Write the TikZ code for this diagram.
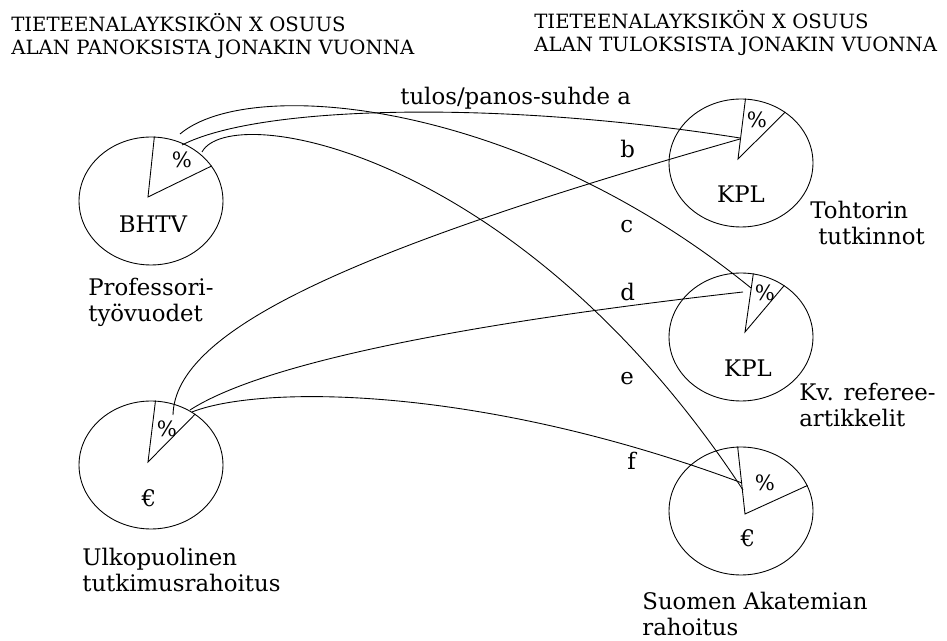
\documentclass[tikz,border=0pt]{standalone}
\usepackage{fontspec}
\setmainfont{DejaVu Serif}
\usetikzlibrary{shapes.geometric, calc}
\tikzset{
	pie/.style   ={ellipse, draw=black, line width=0.5pt, minimum width=2.88cm, minimum height=2.56cm, inner sep=0pt},
	wedge/.style ={draw=black, line width=0.5pt},
	link/.style  ={draw=black, line width=0.5pt},
	txt/.style   ={inner sep=0pt, anchor=base west},
	unit/.style  ={inner sep=0pt, anchor=base},
	pct/.style   ={inner sep=0pt, anchor=base, font=\fontsize{12}{14}\selectfont},
	head/.style  ={inner sep=0pt, anchor=base west, align=left, font=\fontsize{11.2}{13.3}\selectfont},
	multi/.style ={inner sep=0pt, anchor=base west, align=left},
}

\begin{document}
\begin{tikzpicture}[x=0.02cm, y=-0.02cm, font=\fontsize{13}{14.8}\selectfont]
	\useasboundingbox (0,0) rectangle (947,641);
	% headings (anchored at their last line)
	\node[head] (headin)  at (11,55) {TIETEENALAYKSIKÖN X OSUUS\\ALAN PANOKSISTA JONAKIN VUONNA};
	\node[head] (headout) at (534,52) {TIETEENALAYKSIKÖN X OSUUS\\ALAN TULOKSISTA JONAKIN VUONNA};
	% input and output pies
	\node[pie] (bhtv)      at (151,201) {};
	\node[pie] (ulko)      at (151,465) {};
	\node[pie] (tohtori)   at (741,163) {};
	\node[pie] (artikkeli) at (741,337) {};
	\node[pie] (akatemia)  at (741,511) {};
	\foreach \n/\a/\b/\dx/\dy in {bhtv/87.3/30/-3/-4, ulko/86.4/49.4/-3/-3, tohtori/86.4/49.4/-3/-4,
		artikkeli/79.4/50/4/-5, akatemia/93.6/21.5/4/3}
		\draw[wedge] (\n.\a) -- ($(\n.center)+(\dx,\dy)$) -- (\n.\b);
	\node[pct] (bhtvpct)      at (182,168) {\%};
	\node[pct] (ulkopct)      at (167,437) {\%};
	\node[pct] (tohtoripct)   at (757,128) {\%};
	\node[pct] (artikkelipct) at (765,301) {\%};
	\node[pct] (akatemiapct)  at (765,491) {\%};
	\node[unit] (bhtvunit)      at (153,233) {BHTV};
	\node[unit] (ulkounit)      at (149,507) {€};
	\node[unit] (tohtoriunit)   at (741,203) {KPL};
	\node[unit] (artikkeliunit) at (748,377) {KPL};
	\node[unit] (akatemiaunit)  at (748,547) {€};
	% names (anchored at their last line)
	\node[multi] (bhtvname)      at (88,322)  {Professori-\\työvuodet};
	\node[multi] (ulkoname)      at (82,592)  {Ulkopuolinen\\tutkimusrahoitus};
	\node[multi] (tohtoriname)   at (810,245) {Tohtorin\\\hspace*{4.5pt}tutkinnot};
	\node[multi] (artikkeliname) at (799,427) {Kv. referee-\\artikkelit};
	\node[multi] (akatemianame)  at (642,636) {Suomen Akatemian\\rahoitus};
	% ratio curves
	\coordinate (startA) at (182,145); \coordinate (endA) at (740,138);
	\coordinate (startB) at (173,415); \coordinate (endB) at (740,139);
	\coordinate (startC) at (180,134); \coordinate (endC) at (751,288);
	\coordinate (startD) at (190,410); \coordinate (endD) at (743,292);
	\coordinate (startE) at (202,152); \coordinate (endE) at (743,490);
	\coordinate (startF) at (192,412); \coordinate (endF) at (742,483);
	\draw[link] (startA) .. controls (260,105) and (500,100) .. (endA);
	\draw[link] (startB) .. controls (175,330) and (350,250) .. (endB);
	\draw[link] (startC) .. controls (250,75) and (520,100) .. (endC);
	\draw[link] (startD) .. controls (260,365) and (450,325) .. (endD);
	\draw[link] (startE) .. controls (230,100) and (520,150) .. (endE);
	\draw[link] (startF) .. controls (260,385) and (480,385) .. (endF);
	\node[txt] (lblA) at (400,105) {tulos/panos-suhde a};
	\node[txt] (lblB) at (620,158) {b};
	\node[txt] (lblC) at (620,233) {c};
	\node[txt] (lblD) at (620,301) {d};
	\node[txt] (lblE) at (620,385) {e};
	\node[txt] (lblF) at (627,470) {f};
\end{tikzpicture}
\end{document}
